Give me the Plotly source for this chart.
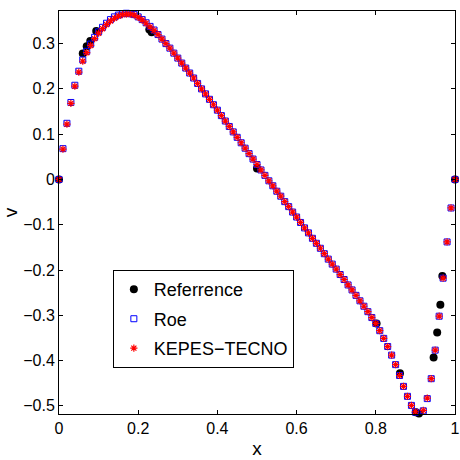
import plotly.graph_objects as go

# Reference solution (sparse points)
ref_x = [0.0, 0.060, 0.070, 0.079, 0.094, 0.157, 0.228, 0.234, 0.500, 0.802,
         0.861, 0.901, 0.909, 0.946, 0.955, 0.963, 0.968, 1.0]
ref_v = [0.0, 0.278, 0.294, 0.306, 0.328, 0.375, 0.331, 0.325, 0.024, -0.318,
         -0.428, -0.514, -0.517, -0.393, -0.338, -0.277, -0.213, 0.0]

# Mesh points (x = 0 .. 1 step 0.01)
x_grid = [i / 100 for i in range(101)]

kepes_v = [0.0, 0.067, 0.122, 0.168, 0.206, 0.237, 0.261, 0.280, 0.296, 0.311,
           0.323, 0.333, 0.342, 0.350, 0.356, 0.361, 0.364, 0.365, 0.365, 0.363,
           0.358, 0.352, 0.345, 0.337, 0.329, 0.320, 0.310, 0.300, 0.290, 0.279,
           0.268, 0.257, 0.246, 0.235, 0.224, 0.212, 0.200, 0.189, 0.177, 0.165,
           0.153, 0.141, 0.129, 0.117, 0.105, 0.093, 0.081, 0.069, 0.057, 0.045,
           0.033, 0.021, 0.009, -0.003, -0.014, -0.026, -0.037, -0.049, -0.060, -0.072,
           -0.083, -0.095, -0.107, -0.118, -0.130, -0.141, -0.152, -0.164, -0.176, -0.187,
           -0.198, -0.210, -0.221, -0.233, -0.244, -0.256, -0.268, -0.280, -0.292, -0.305,
           -0.318, -0.334, -0.351, -0.369, -0.388, -0.409, -0.433, -0.457, -0.479, -0.499,
           -0.513, -0.519, -0.510, -0.483, -0.440, -0.377, -0.302, -0.218, -0.138, -0.063,
           0.0]

roe_v = [0.0, 0.068, 0.124, 0.170, 0.208, 0.239, 0.264, 0.283, 0.299, 0.314,
         0.326, 0.336, 0.345, 0.353, 0.359, 0.363, 0.366, 0.367, 0.366, 0.364,
         0.359, 0.353, 0.346, 0.338, 0.330, 0.320, 0.310, 0.300, 0.290, 0.279,
         0.268, 0.257, 0.246, 0.235, 0.224, 0.212, 0.200, 0.189, 0.177, 0.165,
         0.153, 0.141, 0.129, 0.117, 0.105, 0.093, 0.081, 0.069, 0.057, 0.045,
         0.033, 0.021, 0.009, -0.003, -0.014, -0.026, -0.037, -0.049, -0.060, -0.072,
         -0.083, -0.095, -0.107, -0.118, -0.130, -0.141, -0.152, -0.164, -0.176, -0.187,
         -0.198, -0.210, -0.221, -0.233, -0.244, -0.256, -0.268, -0.280, -0.292, -0.305,
         -0.318, -0.334, -0.351, -0.369, -0.388, -0.409, -0.433, -0.457, -0.479, -0.499,
         -0.514, -0.520, -0.511, -0.484, -0.440, -0.377, -0.302, -0.218, -0.138, -0.063,
         0.0]

x_ticks = [0, 0.2, 0.4, 0.6, 0.8, 1]
y_ticks = [-0.5, -0.4, -0.3, -0.2, -0.1, 0, 0.1, 0.2, 0.3]

FONT = "Liberation Sans, Arial, sans-serif"

fig = go.Figure()
fig.add_trace(go.Scatter(
    x=ref_x, y=ref_v, mode="markers", name="Referrence", legendgroup="a",
    marker=dict(symbol="circle", size=8, color="black"),
    cliponaxis=False))
fig.add_trace(go.Scatter(
    x=x_grid, y=roe_v, mode="markers", name="Roe", legendgroup="b",
    marker=dict(symbol="square", size=6, color="rgba(0,0,0,0)",
                line=dict(width=1, color="#0000ff")),
    cliponaxis=False))
fig.add_trace(go.Scatter(
    x=x_grid, y=kepes_v, mode="markers", name="KEPES\u2212TECNO", legendgroup="c",
    marker=dict(symbol="asterisk-open", size=6, color="red", line=dict(width=1.2, color="red")),
    cliponaxis=False))

axis_common = dict(
    showgrid=False, zeroline=False, showline=True, linecolor="black", linewidth=1,
    mirror="ticks", ticks="inside", ticklen=4, tickcolor="black", automargin=False,
    tickfont=dict(family=FONT, size=16, color="black"),
)

fig.update_layout(
    width=460, height=460,
    margin=dict(l=59, r=5, t=11, b=46),
    paper_bgcolor="white", plot_bgcolor="white",
    font=dict(family=FONT, color="black"),
    xaxis=dict(range=[0, 1], tickvals=x_ticks,
               title=dict(text="x", font=dict(family=FONT, size=19), standoff=5),
               **axis_common),
    yaxis=dict(range=[-0.518, 0.372], tickvals=y_ticks,
               title=dict(text="v", font=dict(family=FONT, size=19), standoff=6),
               **axis_common),
    legend=dict(x=0.136, y=0.357, xanchor="left", yanchor="top",
                bgcolor="white", bordercolor="black", borderwidth=1,
                tracegroupgap=3,
                font=dict(family=FONT, size=18, color="black")),
    showlegend=True,
)

fig.write_html("out.html", config={"displayModeBar": False},
               post_script="document.body.style.margin='0px';")
